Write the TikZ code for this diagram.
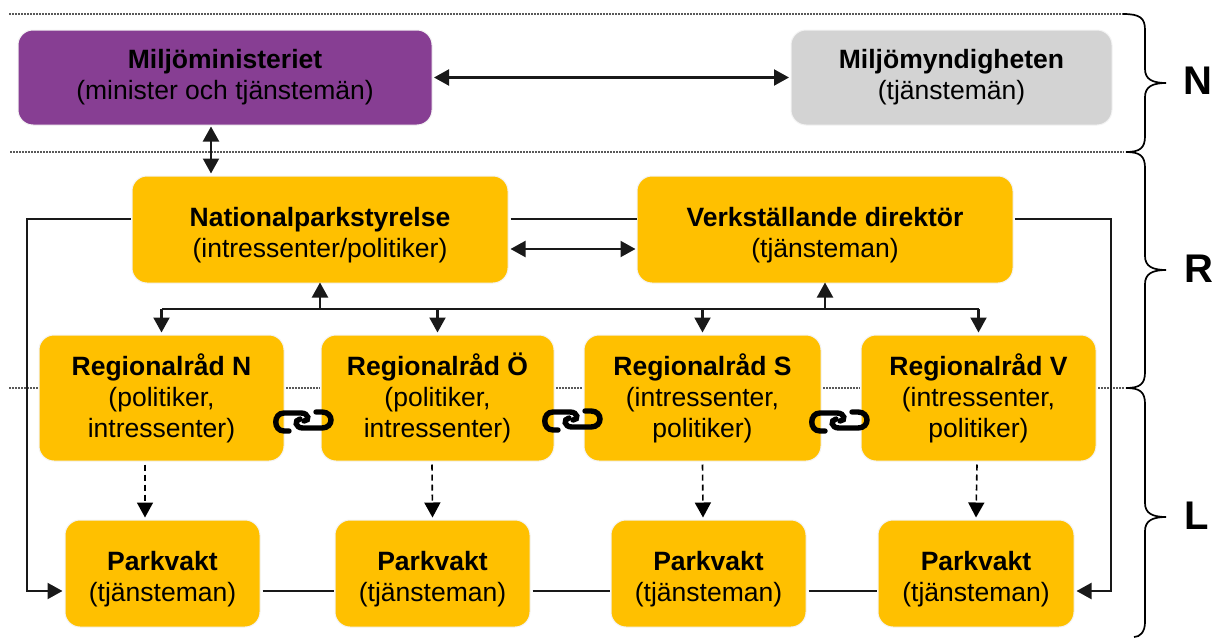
\documentclass[tikz,border=0pt]{standalone}
\usepackage{fontspec}
\setmainfont{Liberation Sans}
\usetikzlibrary{arrows.meta,calc}
\definecolor{amber}{HTML}{FFC000}
\definecolor{plum}{HTML}{873E93}
\definecolor{lightgrey}{HTML}{D3D3D3}
\definecolor{halo}{HTML}{F3F3F3}
\tikzset{
  box/.style={rounded corners=15pt,inner sep=0pt,align=center,text=black,draw=halo,line width=1pt,
    font=\fontsize{26.5}{31}\selectfont},
  amberbox/.style={box,fill=amber},
  conn/.style={line width=2.1pt,draw=black!90},
  tip/.style={-{Triangle[length=15pt,width=16pt]}},
  biarrow/.style={conn,{Triangle[length=15pt,width=16pt]}-{Triangle[length=15pt,width=16pt]}},
  dotline/.style={line width=1.2pt,draw=black!65,dash pattern=on 1.5pt off 1.5pt},
  dashconn/.style={line width=1.6pt,draw=black,dash pattern=on 6pt off 4pt},
  bracket/.style={line width=1.7pt,draw=black},
  tag/.style={font=\fontsize{40}{40}\selectfont\bfseries,inner sep=0pt},
  linkshape/.style={line width=5.4pt,line cap=round,draw=black}
}
\newcommand{\boxnode}[8]{\node[#1,minimum width=#4pt,minimum height=#5pt] (#2) at (#3) {\rule{0pt}{#8pt}\textbf{#6}\\#7};}
\newcommand{\linkicon}[2]{%
  \draw[linkshape,shift={(#1,#2)}] (24,31) -- (19,31) .. controls (8,31) and (8,13) .. (19,13) -- (36,13) .. controls (44,13) and (45,21) .. (39,21);
  \draw[linkshape,shift={(#1,#2)}] (51,12) -- (57,12) .. controls (69,12) and (69,28) .. (57,28) -- (38,28) .. controls (30,28) and (29,20) .. (35,19);
}
\newcommand{\curlybrace}[3]{%
  \draw[bracket] (#1,#2) .. controls (1140,#2) and (1145,#2+4) .. (1145,#2+16)
   -- (1145,#3-14) .. controls (1145,#3-4) and (1152,#3) .. (1166,#3)
   .. controls (1152,#3) and (1145,#3+4) .. (1145,#3+14);
}
\begin{document}
\begin{tikzpicture}[x=1pt,y=-1pt]
\useasboundingbox (0,0) rectangle (1220,637);
% dotted level lines
\coordinate (d1a) at (9,14); \coordinate (d1b) at (1124,14);
\coordinate (d2a) at (10,152); \coordinate (d2b) at (1124,152);
\draw[dotline] (d1a) -- (d1b);
\draw[dotline] (d2a) -- (d2b);
\coordinate (d3a) at (9,388); \coordinate (d3b) at (38,388);
\draw[dotline] (d3a) -- (d3b);
\coordinate (d3c) at (286,388); \coordinate (d3d) at (320,388);
\draw[dotline] (d3c) -- (d3d);
\coordinate (d3e) at (556,388); \coordinate (d3f) at (583,388);
\draw[dotline] (d3e) -- (d3f);
\coordinate (d3g) at (823,388); \coordinate (d3h) at (860,388);
\draw[dotline] (d3g) -- (d3h);
\coordinate (d3i) at (1098,388); \coordinate (d3j) at (1124,388);
\draw[dotline] (d3i) -- (d3j);
% boxes
\boxnode{box,fill=plum}{min}{225,77.5}{414}{95}{Miljöministeriet}{(minister och tjänstemän)}{0}
\boxnode{box,fill=lightgrey}{myn}{951.5,77.5}{321}{95}{Miljömyndigheten}{(tjänstemän)}{0}
\boxnode{amberbox}{nat}{320,229.5}{376}{107}{Nationalparkstyrelse}{(intressenter/politiker)}{31}
\boxnode{amberbox}{vd}{825,229.5}{376}{107}{Verkställande direktör}{(tjänsteman)}{31}
\boxnode{amberbox}{rn}{161.5,398}{245}{126}{Regionalråd N}{(politiker,\\intressenter)}{0}
\boxnode{amberbox}{ro}{437.5,398}{233}{126}{Regionalråd Ö}{(politiker,\\intressenter)}{0}
\boxnode{amberbox}{rs}{702.5,398}{237}{126}{Regionalråd S}{(intressenter,\\politiker)}{0}
\boxnode{amberbox}{rv}{978.5,398}{235}{126}{Regionalråd V}{(intressenter,\\politiker)}{0}
\boxnode{amberbox}{p1}{162.5,573.5}{195}{107}{Parkvakt}{(tjänsteman)}{31}
\boxnode{amberbox}{p2}{432.5,573.5}{195}{107}{Parkvakt}{(tjänsteman)}{31}
\boxnode{amberbox}{p3}{708.5,573.5}{195}{107}{Parkvakt}{(tjänsteman)}{31}
\boxnode{amberbox}{p4}{976,573.5}{196}{107}{Parkvakt}{(tjänsteman)}{31}
% top connectors
\draw[biarrow] ([xshift=1.5pt]min.east) -- ([xshift=-1.5pt]myn.west);
\draw[biarrow] ([xshift=-14pt,yshift=-1pt]min.south) -- ([xshift=-109pt,yshift=2pt]nat.north);
\draw[biarrow] ([xshift=2pt,yshift=-19.5pt]nat.east) -- ([xshift=-1pt,yshift=-19.5pt]vd.west);
\draw[conn] ([xshift=2pt,yshift=10.5pt]nat.east) -- ([yshift=10.5pt]vd.west);
% loops down to the rangers
\coordinate (lc) at (27,219);
\coordinate (rc) at (1111,219);
\coordinate (lb) at ([yshift=-17.5pt]p1.west);
\coordinate (rb) at ([yshift=-17.5pt]p4.east);
\draw[conn,tip] ([xshift=-1pt,yshift=10.5pt]nat.west) -- (lc) -- (lc |- lb) -- ([xshift=-2pt]lb);
\draw[conn,tip] ([xshift=1pt,yshift=10.5pt]vd.east) -- (rc) -- (rc |- rb) -- ([xshift=2pt]rb);
% bus
\coordinate (bus) at (320,309);
\draw[conn] (rn.north |- bus) -- (rv.north |- bus);
\draw[conn,tip] (bus) -- ([yshift=1pt]nat.south);
\draw[conn,tip] (vd.south |- bus) -- ([yshift=1pt]vd.south);
\draw[conn,tip] (rn.north |- bus) -- ([yshift=2pt]rn.north);
\draw[conn,tip] (ro.north |- bus) -- ([yshift=2pt]ro.north);
\draw[conn,tip] (rs.north |- bus) -- ([yshift=2pt]rs.north);
\draw[conn,tip] (rv.north |- bus) -- ([yshift=2pt]rv.north);
% dashed
\draw[dashconn,-{Triangle[length=15pt,width=16pt]}] ([xshift=-16.5pt,yshift=-3pt]rn.south) -- ([xshift=-17.5pt,yshift=2pt]p1.north);
\draw[dashconn,-{Triangle[length=15pt,width=16pt]}] ([xshift=-5.5pt,yshift=-3pt]ro.south) -- ([yshift=2pt]p2.north);
\draw[dashconn,-{Triangle[length=15pt,width=16pt]}] ([yshift=-3pt]rs.south) -- ([xshift=-5.5pt,yshift=2pt]p3.north);
\draw[dashconn,-{Triangle[length=15pt,width=16pt]}] ([xshift=-1.5pt,yshift=-3pt]rv.south) -- ([yshift=2pt]p4.north);
% bottom row
\draw[conn] ([xshift=2pt,yshift=-17.5pt]p1.east) -- ([xshift=-1pt,yshift=-17.5pt]p2.west);
\draw[conn] ([xshift=2pt,yshift=-17.5pt]p2.east) -- ([xshift=-1pt,yshift=-17.5pt]p3.west);
\draw[conn] ([xshift=2pt,yshift=-17.5pt]p3.east) -- ([xshift=-1pt,yshift=-17.5pt]p4.west);
% chain icons
\linkicon{265}{400}
\linkicon{534}{399}
\linkicon{801}{400}
% braces
\curlybrace{1123}{14}{83}
\draw[bracket] (1145,97) -- (1145,136) .. controls (1145,148) and (1140,152) .. (1126,152);
\curlybrace{1126}{152}{270}
\draw[bracket] (1145,284) -- (1145,372) .. controls (1145,384) and (1140,388) .. (1126,388);
\curlybrace{1126}{388}{517}
\draw[bracket] (1145,531) -- (1145,622) .. controls (1145,632) and (1140,637) .. (1134,637);
\node[tag] (tn) at (1198,81) {N};
\node[tag] (tr) at (1199,269) {R};
\node[tag] (tl) at (1197,516) {L};
\end{tikzpicture}
\end{document}
